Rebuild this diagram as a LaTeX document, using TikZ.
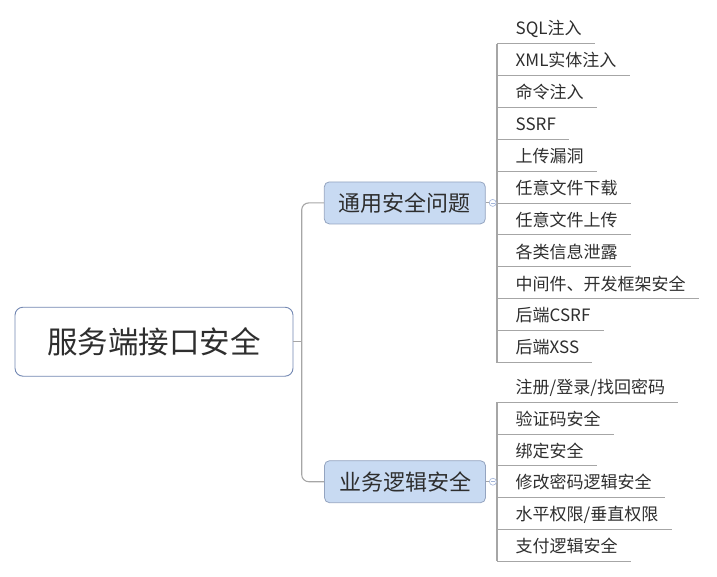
\documentclass[tikz,border=0pt]{standalone}
\usepackage{fontspec}
\setmainfont{Noto Sans CJK SC}
\usetikzlibrary{calc}
\definecolor{linegray}{HTML}{A6A6A6}
\definecolor{rootborder}{HTML}{7287B2}
\definecolor{brfill}{HTML}{C8DAF2}
\definecolor{brborder}{HTML}{94A4C0}
\definecolor{textc}{HTML}{2E2E2E}
\definecolor{circc}{HTML}{A3B5DA}
\begin{document}
\begin{tikzpicture}[x=1pt,y=-1pt,
  conn/.style={draw=linegray, line width=1.1pt},
  uline/.style={draw=linegray, line width=1pt},
  rootbox/.style={draw=rootborder, fill=white, rounded corners=8pt, line width=0.9pt,
    minimum width=278pt, minimum height=69pt, inner sep=0pt,
    font=\fontsize{30.5}{36}\selectfont, text=textc},
  branchbox/.style={draw=brborder, fill=brfill, rounded corners=5pt, line width=0.8pt,
    minimum width=161pt, minimum height=42pt, inner sep=0pt,
    font=\fontsize{22}{26}\selectfont, text=textc},
  leaf/.style={anchor=south west, inner xsep=0pt, inner ysep=0pt,
    text height=13pt, text depth=8.5pt, text=textc,
    font=\fontsize{17}{20}\selectfont,
    execute at begin node={\hspace*{18.5pt}},
    execute at end node={\hspace*{13pt}}},
  collapse/.style={circle, draw=circc, fill=white, minimum size=7pt, inner sep=0pt,
    line width=0.6pt,
    path picture={\draw[circc, line width=0.6pt]
      ([xshift=1.4pt]path picture bounding box.west) --
      ([xshift=-1.4pt]path picture bounding box.east);}}
]
\useasboundingbox (0,0) rectangle (717,576);

% root and branches
\node[rootbox] (root) at (154,341.7) {服务端接口安全};
\node[branchbox] (b1) at (404.8,202.9) {通用安全问题};
\node[branchbox] (b2) at (405,481.7) {业务逻辑安全};

\coordinate (hub) at (301.7,341.7);
\draw[conn] (root.east) -- (hub);
\draw[conn, rounded corners=7pt] (hub) |- (b1.west);
\draw[conn, rounded corners=7pt] (hub) |- (b2.west);

% leaves of branch 1
\foreach \t [count=\i] in {SQL注入, XML实体注入, 命令注入, SSRF, 上传漏洞, 任意文件下载,
  任意文件上传, 各类信息泄露, 中间件、开发框架安全, 后端CSRF, 后端XSS} {
  \node[leaf] (a\i) at (497,{43.5+31.9*(\i-1)}) {\t};
  \draw[uline] (a\i.south west) -- (a\i.south east);
}
\draw[conn] (a1.south west) -- (a11.south west);

% leaves of branch 2
\foreach \t [count=\i] in {注册/登录/找回密码, 验证码安全, 绑定安全, 修改密码逻辑安全,
  水平权限/垂直权限, 支付逻辑安全} {
  \node[leaf] (c\i) at (497,{402.3+31.75*(\i-1)}) {\t};
  \draw[uline] (c\i.south west) -- (c\i.south east);
}
\draw[conn] (c1.south west) -- (c6.south west);

% branch to leaf connectors with collapse markers
\draw[conn] (b1.east) -- (b1.east -| a1.south west);
\draw[conn] (b2.east) -- (b2.east -| c1.south west);
\node[collapse] (k1) at ($(b1.east)+(7,0)$) {};
\node[collapse] (k2) at ($(b2.east)+(7,0)$) {};
\end{tikzpicture}
\end{document}
